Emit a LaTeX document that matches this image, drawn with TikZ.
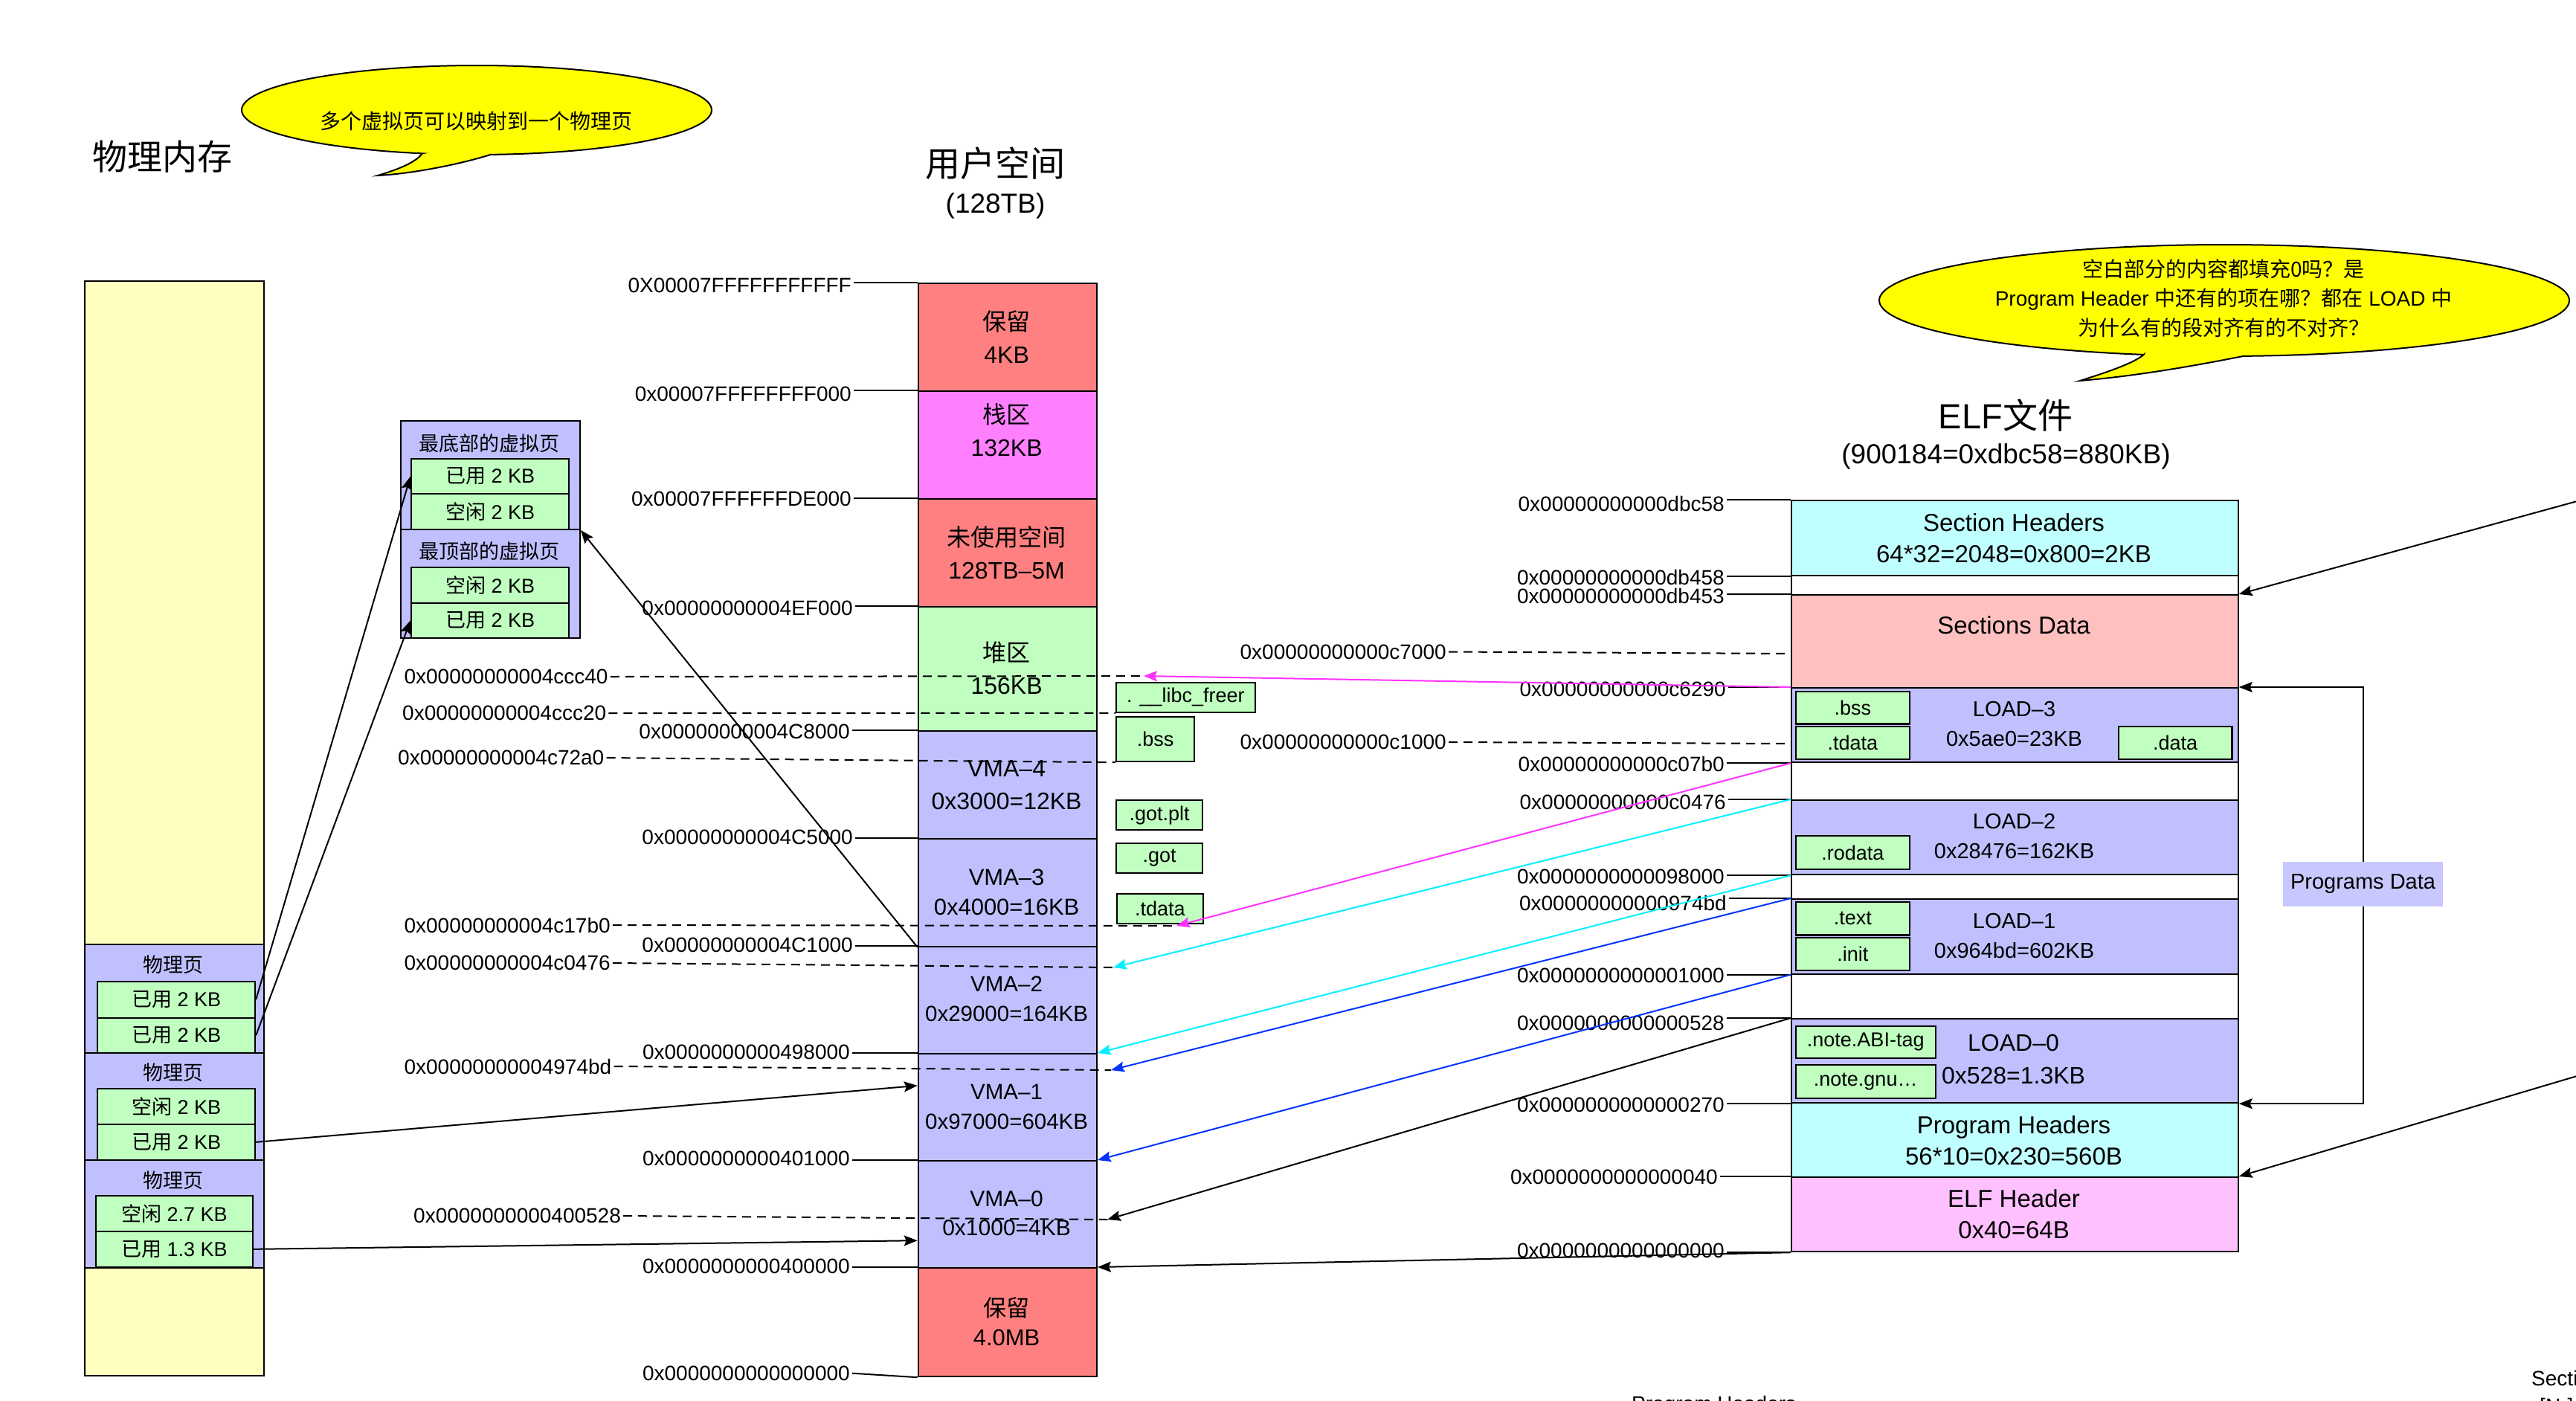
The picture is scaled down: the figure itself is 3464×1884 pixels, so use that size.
\documentclass[tikz,border=0pt]{standalone}
\usepackage{fontspec}
\setmainfont{Liberation Sans}
\newfontfamily\cjk{Noto Sans CJK SC}
\usetikzlibrary{arrows.meta,calc}
\definecolor{cred}{HTML}{FF8080}
\definecolor{cmag}{HTML}{FF80FF}
\definecolor{cgrn}{HTML}{C0FFC0}
\definecolor{cvma}{HTML}{C0C0FF}
\definecolor{cvmal}{HTML}{C8C8FF}
\definecolor{cyel}{HTML}{FFFFC0}
\definecolor{ccyan}{HTML}{C0FFFF}
\definecolor{cpink}{HTML}{FFC0C0}
\definecolor{celf}{HTML}{FFC0FF}
\definecolor{lmag}{HTML}{FF33FF}
\definecolor{lcyan}{HTML}{00F0FF}
\definecolor{lblue}{HTML}{0033FF}
\definecolor{bubble}{HTML}{FFFF00}
\newcommand\myfs[2]{\fontsize{#1}{#2}\selectfont}
\begin{document}
\begin{tikzpicture}[x=1pt,y=-1pt,
  box/.style={draw, line width=2.2pt, inner sep=0pt, anchor=north west},
  gbox/.style={box, fill=cgrn, font=\myfs{27}{32}},
  cjkl/.style={inner sep=0pt, font=\cjk\myfs{27}{32}},
  btxt/.style={inner sep=0pt, align=center, font=\myfs{32}{44}},
  vtxt/.style={inner sep=0pt, align=center, font=\myfs{31}{40}},
  etxt/.style={inner sep=0pt, align=center, font=\myfs{33}{42}},
  ltxt/.style={inner sep=0pt, align=center, font=\myfs{29}{40}},
  hex/.style={inner sep=3pt, font=\myfs{28}{34}},
  con/.style={line width=2pt},
  arr/.style={line width=2pt, -{Stealth[length=18pt,width=14pt,inset=3pt]}},
  dsh/.style={line width=2pt, dash pattern=on 12pt off 8pt},
]
\fill[white] (0,0) rectangle (3464,1884);
\useasboundingbox (0,0) rectangle (3464,1884);

% ---------- speech bubbles ----------
\draw[line width=2pt, fill=bubble] plot[domain=103.4:446.6, samples=150] ({641+316*cos(\x)},{148+60*sin(\x)})
  .. controls (615,222) and (550,234) .. (508,236)
  .. controls (535,228) and (560,218) .. (567.6,206.4) -- cycle;
\node[font=\cjk\myfs{28}{34}] (bub1) at (640,163) {多个虚拟页可以映射到一个物理页};

\draw[line width=2pt, fill=bubble] plot[domain=103.5:446.8, samples=150] ({2991+464*cos(\x)},{404+75*sin(\x)})
  .. controls (2960,490) and (2880,505) .. (2797,512)
  .. controls (2835,500) and (2870,488) .. (2882.7,476.9) -- cycle;
\node[align=center, font=\myfs{28}{39.5}] (bub2) at (2990,401)
  {{\cjk 空白部分的内容都填充0吗？是}\\Program Header {\cjk 中还有的项在哪？都在} LOAD {\cjk 中}\\{\cjk 为什么有的段对齐有的不对齐？}};

% ---------- titles ----------
\node[font=\cjk\myfs{47}{56}] (tphys) at (218,211) {物理内存};
\node[font=\cjk\myfs{47}{56}] (tuser) at (1338.5,220) {用户空间};
\node[font=\myfs{37}{44}] (tusers) at (1338.5,277) {(128TB)};
\node[font=\myfs{47}{56}] (telf) at (2697,558) {ELF{\cjk 文件}};
\node[font=\myfs{37}{44}] (telfs) at (2697.5,614) {(900184=0xdbc58=880KB)};

% ---------- physical memory ----------
\node[box, fill=cyel, minimum width=241pt, minimum height=1471.5pt] (phys) at (113,377) {};
\node[box, fill=cvma, minimum width=241pt, minimum height=146pt] (pa) at (113,1269) {};
\node[cjkl] (pal) at (233,1297.5) {物理页};
\node[gbox, minimum width=212pt, minimum height=49pt] (a1) at (130,1318.5) {{\cjk 已用} 2 KB};
\node[gbox, minimum width=212pt, minimum height=47.5pt] (a2) at (130,1367.5) {{\cjk 已用} 2 KB};
\node[box, fill=cvma, minimum width=241pt, minimum height=144pt] (pb) at (113,1415) {};
\node[cjkl] (pbl) at (233,1442.5) {物理页};
\node[gbox, minimum width=212pt, minimum height=48.5pt] (b1) at (130,1462.5) {{\cjk 空闲} 2 KB};
\node[gbox, minimum width=212pt, minimum height=47.5pt] (b2) at (130,1511) {{\cjk 已用} 2 KB};
\node[box, fill=cvma, minimum width=241pt, minimum height=144.5pt] (pc) at (113,1559) {};
\node[cjkl] (pcl) at (233,1587.5) {物理页};
\node[gbox, minimum width=211.5pt, minimum height=48.5pt] (c1) at (127.5,1606.5) {{\cjk 空闲} 2.7 KB};
\node[gbox, minimum width=211.5pt, minimum height=47.5pt] (c2) at (127.5,1655) {{\cjk 已用} 1.3 KB};

% ---------- virtual pages ----------
\node[box, fill=cvma, minimum width=240.6pt, minimum height=145.7pt] (v1) at (538,565) {};
\node[cjkl] (v1l) at (658,596) {最底部的虚拟页};
\node[gbox, minimum width=212pt, minimum height=47pt] (v1a) at (552,616) {{\cjk 已用} 2 KB};
\node[gbox, minimum width=212pt, minimum height=47.7pt] (v1b) at (552,663) {{\cjk 空闲} 2 KB};
\node[box, fill=cvma, minimum width=240.6pt, minimum height=146.3pt] (v2) at (538,710.7) {};
\node[cjkl] (v2l) at (658,741) {最顶部的虚拟页};
\node[gbox, minimum width=212pt, minimum height=48pt] (v2a) at (552,761.7) {{\cjk 空闲} 2 KB};
\node[gbox, minimum width=212pt, minimum height=47.4pt] (v2b) at (552,809.6) {{\cjk 已用} 2 KB};

% ---------- user space ----------
\node[box, fill=cred, minimum width=240pt, minimum height=145pt] (res1) at (1233.7,380) {};
\node[box, fill=cmag, minimum width=240pt, minimum height=145pt] (stack) at (1233.7,525) {};
\node[box, fill=cred, minimum width=240pt, minimum height=145pt] (unused) at (1233.7,670) {};
\node[box, fill=cgrn, minimum width=240pt, minimum height=167pt] (heap) at (1233.7,815) {};
\node[box, fill=cvma, minimum width=240pt, minimum height=144.6pt] (vma4) at (1233.7,982) {};
\node[box, fill=cvma, minimum width=240pt, minimum height=144.9pt] (vma3) at (1233.7,1126.6) {};
\node[box, fill=cvma, minimum width=240pt, minimum height=144.5pt] (vma2) at (1233.7,1271.5) {};
\node[box, fill=cvma, minimum width=240pt, minimum height=144pt] (vma1) at (1233.7,1416) {};
\node[box, fill=cvma, minimum width=240pt, minimum height=144pt] (vma0) at (1233.7,1560) {};
\node[box, fill=cred, minimum width=240pt, minimum height=146pt] (res0) at (1233.7,1704) {};

\node[btxt] (tres1) at (1353.6,453) {{\cjk 保留}\\4KB};
\node[btxt] (tstack) at (1353.6,578.5) {{\cjk 栈区}\\132KB};
\node[btxt] (tunused) at (1353.6,743) {{\cjk 未使用空间}\\128TB–5M};
\node[btxt] (theap) at (1353.6,898) {{\cjk 堆区}\\156KB};
\node[vtxt, font=\myfs{32}{44}] (tvma4) at (1353.6,1056) {VMA–4\\0x3000=12KB};
\node[vtxt] (tvma3) at (1353.6,1199.6) {VMA–3\\0x4000=16KB};
\node[vtxt, font=\myfs{29.5}{40}] (tvma2) at (1353.6,1343) {VMA–2\\0x29000=164KB};
\node[vtxt, font=\myfs{29.5}{40}] (tvma1) at (1353.6,1488) {VMA–1\\0x97000=604KB};
\node[vtxt, font=\myfs{30}{39}] (tvma0) at (1353.6,1632) {VMA–0\\0x1000=4KB};
\node[btxt, font=\myfs{31}{39}] (tres0) at (1353.6,1777.5) {{\cjk 保留}\\4.0MB};

% section boxes next to user space
\node[gbox, minimum width=186.7pt, minimum height=40pt] (libc) at (1500,916.7) {. \_\_libc\_freer};
\node[gbox, minimum width=105pt, minimum height=60pt] (ubss) at (1500,963) {.bss};
\node[gbox, minimum width=116pt, minimum height=40pt] (gotplt) at (1500,1075) {.got.plt};
\node[gbox, minimum width=116pt, minimum height=40pt] (got) at (1500,1132.7) {.got};
\node[gbox, minimum width=116pt, minimum height=40pt] (utdata) at (1500.7,1200.7) {.tdata};

% ---------- ELF file ----------
\node[box, fill=white, minimum width=600.5pt, minimum height=1010pt] (elf) at (2408,672) {};
\node[box, fill=ccyan, minimum width=600.5pt, minimum height=101pt] (shdr) at (2408,672) {};
\node[box, fill=cpink, minimum width=600.5pt, minimum height=125pt] (sdata) at (2408,799) {};
\node[box, fill=cvma, minimum width=600.5pt, minimum height=100pt] (load3) at (2408,924) {};
\node[box, fill=cvma, minimum width=600.5pt, minimum height=100pt] (load2) at (2408,1075) {};
\node[box, fill=cvma, minimum width=600.5pt, minimum height=100.5pt] (load1) at (2408,1208) {};
\node[box, fill=cvma, minimum width=600.5pt, minimum height=113pt] (load0) at (2408,1369) {};
\node[box, fill=ccyan, minimum width=600.5pt, minimum height=100pt] (phdr) at (2408,1482) {};
\node[box, fill=celf, minimum width=600.5pt, minimum height=100pt] (elfh) at (2408,1582) {};

\node[etxt] (tshdr) at (2708,724) {Section Headers\\64*32=2048=0x800=2KB};
\node[etxt] (tsdata) at (2708,841) {Sections Data};
\node[ltxt] (tload3) at (2708.5,974) {LOAD–3\\0x5ae0=23KB};
\node[ltxt] (tload2) at (2708.5,1125) {LOAD–2\\0x28476=162KB};
\node[ltxt] (tload1) at (2708.5,1258.7) {LOAD–1\\0x964bd=602KB};
\node[ltxt, font=\myfs{32}{44}] (tload0) at (2707.5,1424) {LOAD–0\\0x528=1.3KB};
\node[etxt] (tphdr) at (2708,1534) {Program Headers\\56*10=0x230=560B};
\node[etxt] (telfh) at (2708,1633) {ELF Header\\0x40=64B};

\node[gbox, minimum width=153.4pt, minimum height=43.8pt] (ebss) at (2413.6,928.6) {.bss};
\node[gbox, minimum width=153.4pt, minimum height=44pt] (etdata) at (2413.6,976) {.tdata};
\node[gbox, minimum width=152.6pt, minimum height=44pt] (edata) at (2847.8,976) {.data};
\node[gbox, minimum width=153.4pt, minimum height=45pt] (erodata) at (2413.6,1123) {.rodata};
\node[gbox, minimum width=153.4pt, minimum height=44.4pt] (etext) at (2413.6,1212) {.text};
\node[gbox, minimum width=153.4pt, minimum height=44pt] (einit) at (2413.6,1260) {.init};
\node[gbox, minimum width=188pt, minimum height=43.3pt] (eabi) at (2413.6,1378.7) {.note.ABI-tag};
\node[gbox, minimum width=188pt, minimum height=44.5pt] (egnu) at (2413.6,1431) {.note.gnu…};

\node[fill=cvmal, inner sep=0pt, minimum width=215pt, minimum height=60pt, font=\myfs{29}{34}] (pd) at (3177.5,1189) {Programs Data};

% cut-off texts at the bottom edge (as in the reference)
\node[anchor=base west, inner sep=0pt, font=\myfs{28}{34}] (cutph) at (2194,1897) {Program Headers};
\node[anchor=base west, inner sep=0pt, font=\myfs{28}{34}] (cutsh) at (3404,1863) {Section Headers:};
\node[anchor=base west, inner sep=0pt, font=\myfs{28}{34}] (cutnr) at (3415,1900) {[Nr]};

% ---------- user-space address labels ----------
\node[hex, anchor=east] (h1) at (1148,384) {0X00007FFFFFFFFFFF};
\node[hex, anchor=east] (h2) at (1148,529.5) {0x00007FFFFFFFF000};
\node[hex, anchor=east] (h3) at (1148,671) {0x00007FFFFFFDE000};
\node[hex, anchor=east] (h4) at (1150,818) {0x00000000004EF000};
\node[hex, anchor=east] (h5) at (1146,984) {0x00000000004C8000};
\node[hex, anchor=east] (h6) at (1150,1126) {0x00000000004C5000};
\node[hex, anchor=east] (h7) at (1150,1270.7) {0x00000000004C1000};
\node[hex, anchor=east] (h8) at (1146,1415) {0x0000000000498000};
\node[hex, anchor=east] (h9) at (1146,1558) {0x0000000000401000};
\node[hex, anchor=east] (h10) at (1146,1703) {0x0000000000400000};
\node[hex, anchor=east] (h11) at (1146,1846.7) {0x0000000000000000};
\draw[con] (h1.east |- res1.north west) -- (res1.north west);
\draw[con] (h2.east |- stack.north west) -- (stack.north west);
\draw[con] (h3.east |- unused.north west) -- (unused.north west);
\draw[con] (h4.east |- heap.north west) -- (heap.north west);
\draw[con] (h5.east |- vma4.north west) -- (vma4.north west);
\draw[con] (h6.east |- vma3.north west) -- (vma3.north west);
\draw[con] (h7.east |- vma2.north west) -- (vma2.north west);
\draw[con] (h8.east |- vma1.north west) -- (vma1.north west);
\draw[con] (h9.east |- vma0.north west) -- (vma0.north west);
\draw[con] (h10.east |- res0.north west) -- (res0.north west);
\draw[con] (h11.east) -- (res0.south west);

% dashed section labels (user side)
\node[hex, anchor=west] (d1) at (540.4,910) {0x00000000004ccc40};
\node[hex, anchor=west] (d2) at (538,959) {0x00000000004ccc20};
\node[hex, anchor=west] (d3) at (532,1019) {0x00000000004c72a0};
\node[hex, anchor=west] (d4) at (540.4,1244) {0x00000000004c17b0};
\node[hex, anchor=west] (d5) at (540.4,1295) {0x00000000004c0476};
\node[hex, anchor=west] (d6) at (540.4,1434) {0x00000000004974bd};
\node[hex, anchor=west] (d7) at (553,1635) {0x0000000000400528};

\coordinate (mgA) at (1538,909);
\coordinate (mgB) at (1582,1245);
\coordinate (cyA) at (1497,1301);
\coordinate (blA) at (1494,1439);
\coordinate (bkA) at (1489,1640);

\draw[dsh] (d1.east) -- (mgA);
\draw[dsh] (d2.east) -- (libc.south west);
\draw[dsh] (d3.east) -- (ubss.south west);
\draw[dsh] (d4.east) -- (mgB);
\draw[dsh] (d5.east) -- (cyA);
\draw[dsh] (d6.east) -- (blA);
\draw[dsh] (d7.east) -- (bkA);

% ---------- ELF address labels ----------
\node[hex, anchor=east] (e1) at (2322,677.6) {0x00000000000dbc58};
\node[hex, anchor=east] (e2) at (2322,776) {0x00000000000db458};
\node[hex, anchor=east] (e3) at (2322,801.5) {0x00000000000db453};
\node[hex, anchor=east] (e4) at (2324,926.5) {0x00000000000c6290};
\node[hex, anchor=east] (e5) at (2322,1027) {0x00000000000c07b0};
\node[hex, anchor=east] (e6) at (2324,1079) {0x00000000000c0476};
\node[hex, anchor=east] (e7) at (2322,1179) {0x0000000000098000};
\node[hex, anchor=east] (e8) at (2325,1214) {0x00000000000974bd};
\node[hex, anchor=east] (e9) at (2322,1311.7) {0x0000000000001000};
\node[hex, anchor=east] (e10) at (2322,1375.5) {0x0000000000000528};
\node[hex, anchor=east] (e11) at (2322,1486) {0x0000000000000270};
\node[hex, anchor=east] (e12) at (2313,1583) {0x0000000000000040};
\node[hex, anchor=east] (e13) at (2322,1682) {0x0000000000000000};
\draw[con] (e1.east |- shdr.north west) -- (shdr.north west);
\draw[con] (e2.east |- shdr.south west) -- (shdr.south west);
\draw[con] (e3.east |- sdata.north west) -- (sdata.north west);
\draw[con] (e4.east |- load3.north west) -- (load3.north west);
\draw[con] (e5.east |- load3.south west) -- (load3.south west);
\draw[con] (e6.east |- load2.north west) -- (load2.north west);
\draw[con] (e7.east |- load2.south west) -- (load2.south west);
\draw[con] (e8.east |- load1.north west) -- (load1.north west);
\draw[con] (e9.east |- load1.south west) -- (load1.south west);
\draw[con] (e10.east |- load0.north west) -- (load0.north west);
\draw[con] (e11.east |- load0.south west) -- (load0.south west);
\draw[con] (e12.east |- elfh.north west) -- (elfh.north west);
\draw[con] (e13.east |- elfh.south west) -- (elfh.south west);

\node[hex, anchor=east] (e14) at (1948,876.5) {0x00000000000c7000};
\node[hex, anchor=east] (e15) at (1948,998) {0x00000000000c1000};
\coordinate (eC7) at (2408,879);
\coordinate (eC1) at (2408,1000);
\draw[dsh] (e14.east) -- (eC7);
\draw[dsh] (e15.east) -- (eC1);

% ---------- mapping arrows ----------
\draw[arr, color=lmag] (load3.north west) -- (mgA);
\draw[arr, color=lmag] (load3.south west) -- (mgB);
\draw[arr, color=lcyan] (load2.north west) -- (cyA);
\draw[arr, color=lcyan] (load2.south west) -- (vma1.north east);
\draw[arr, color=lblue] (load1.north west) -- (blA);
\draw[arr, color=lblue] (load1.south west) -- (vma0.north east);
\draw[arr] (load0.north west) -- (bkA);
\draw[arr] (elfh.south west) -- (res0.north east);

% physical <-> virtual
\draw[arr] (a1.east) -- (v1a.west);
\draw[arr] (a2.east) -- (v2b.west);
\draw[arr] (vma3.south west) -- (v1.south east);
\draw[arr] (b2.east) -- ($(vma1.north west)!0.3!(vma1.south west)$);
\draw[arr] (c2.east) -- ($(vma0.north west)!0.74!(vma0.south west)$);

% programs data bracket
\draw[arr] (pd.north) |- (load3.north east);
\draw[arr] (pd.south) |- (load0.south east);

% arrows coming from outside the picture
\coordinate (offA) at (3600,637);
\coordinate (offB) at (3600,1407);
\draw[arr] (offA) -- (sdata.north east);
\draw[arr] (offB) -- (elfh.north east);
\end{tikzpicture}
\end{document}
